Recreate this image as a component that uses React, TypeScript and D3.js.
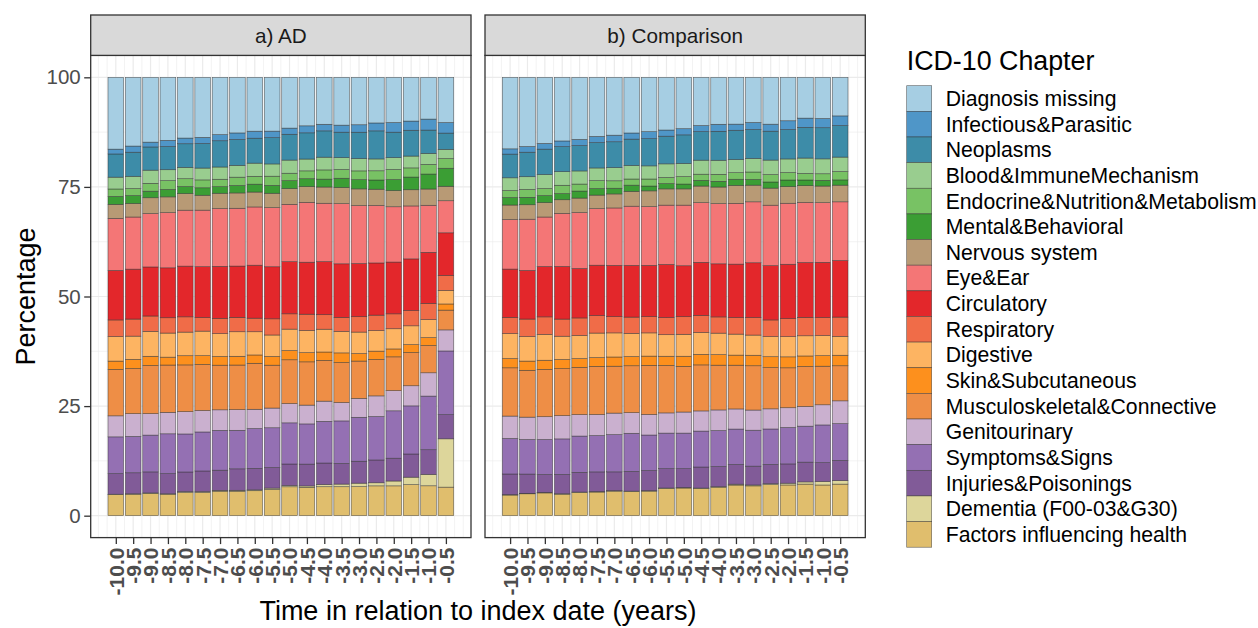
import React, { useEffect, useRef } from 'react';
import * as d3 from 'd3';

// ICD-10 chapters, legend order (top of the stack first)
const chapters = [
  'Diagnosis missing', 'Infectious&Parasitic', 'Neoplasms', 'Blood&ImmuneMechanism',
  'Endocrine&Nutrition&Metabolism', 'Mental&Behavioral', 'Nervous system', 'Eye&Ear',
  'Circulatory', 'Respiratory', 'Digestive', 'Skin&Subcutaneous',
  'Musculoskeletal&Connective', 'Genitourinary', 'Symptoms&Signs', 'Injuries&Poisonings',
  'Dementia (F00-03&G30)', 'Factors influencing health',
];
const chapterColours = [
  '#a6cee3', '#4f96c8', '#3d8ca8', '#99cd8f', '#78c264', '#3b9e34', '#b89a75', '#f47676',
  '#e3272b', '#f06c48', '#fdb462', '#fd901d', '#ee8e46', '#cab0cf', '#9470b3', '#815b98',
  '#ddd69b', '#e0be6d',
];

const timePoints = [-10.0, -9.5, -9.0, -8.5, -8.0, -7.5, -7.0, -6.5, -6.0, -5.5,
  -5.0, -4.5, -4.0, -3.5, -3.0, -2.5, -2.0, -1.5, -1.0, -0.5];
const timeLabels = ['-10.0', '-9.5', '-9.0', '-8.5', '-8.0', '-7.5', '-7.0', '-6.5', '-6.0', '-5.5',
  '-5.0', '-4.5', '-4.0', '-3.5', '-3.0', '-2.5', '-2.0', '-1.5', '-1.0', '-0.5'];
const yTicks = [0, 25, 50, 75, 100];
const panelTitles = ['a) AD', 'b) Comparison'];

// percentages per chapter (rows, legend order) and time point (columns)
const adValues = [
  [16.4, 15.7, 14.8, 14.4, 13.9, 13.7, 13.1, 12.7, 12.3, 12.3, 11.6, 11.1, 10.7, 10.9, 10.8, 10.4, 10.3, 10.0, 9.5, 10.3],
  [1.1, 1.4, 1.1, 1.4, 1.3, 1.4, 1.4, 1.5, 1.6, 1.5, 1.4, 1.6, 1.5, 1.6, 1.7, 1.8, 2.2, 2.1, 2.5, 2.4],
  [5.3, 5.5, 5.3, 5.3, 5.4, 5.6, 6.0, 5.9, 5.7, 6.0, 5.9, 6.0, 6.0, 5.8, 6.0, 6.4, 5.8, 5.9, 5.3, 3.7],
  [2.7, 2.8, 3.0, 2.5, 2.6, 2.7, 2.8, 2.7, 3.0, 2.8, 3.0, 2.7, 2.9, 2.7, 2.8, 2.7, 2.7, 2.7, 2.5, 2.1],
  [1.7, 1.6, 1.8, 2.0, 1.8, 1.8, 1.7, 1.9, 1.8, 2.1, 1.7, 1.8, 2.1, 2.0, 2.0, 2.1, 2.3, 2.1, 2.2, 2.2],
  [1.8, 1.8, 1.5, 1.7, 1.6, 1.7, 1.5, 1.7, 1.8, 1.8, 1.8, 1.8, 1.8, 2.1, 2.1, 2.1, 2.5, 2.9, 3.4, 4.1],
  [3.2, 3.1, 3.6, 3.6, 3.8, 3.4, 3.5, 3.5, 3.4, 3.3, 3.6, 3.6, 3.7, 3.7, 3.8, 3.7, 3.7, 3.7, 3.7, 3.3],
  [11.9, 11.9, 12.2, 12.6, 12.8, 12.9, 13.2, 13.2, 13.3, 13.5, 13.1, 13.7, 13.3, 13.7, 13.2, 13.1, 12.6, 12.1, 10.7, 7.3],
  [11.3, 11.4, 11.2, 11.4, 11.6, 11.6, 11.9, 11.7, 12.1, 11.9, 11.9, 11.9, 12.1, 12.2, 12.1, 11.9, 11.8, 11.8, 11.6, 9.7],
  [3.8, 3.9, 3.5, 3.5, 3.5, 3.1, 3.5, 3.3, 3.1, 3.7, 3.5, 3.7, 3.3, 3.2, 3.5, 3.5, 3.4, 3.5, 3.7, 3.4],
  [5.6, 5.3, 5.7, 5.5, 5.4, 5.6, 5.2, 5.6, 5.3, 4.9, 4.9, 5.1, 5.2, 4.9, 4.9, 4.7, 4.6, 4.3, 4.1, 3.1],
  [1.9, 2.1, 2.1, 1.8, 2.1, 2.0, 2.0, 2.0, 1.9, 2.0, 2.1, 2.1, 1.9, 2.2, 1.7, 1.9, 1.8, 1.8, 1.8, 1.4],
  [10.6, 10.3, 11.0, 10.8, 10.7, 10.5, 10.2, 10.2, 10.5, 9.8, 10.0, 9.9, 9.3, 9.1, 8.5, 8.3, 7.7, 7.6, 6.2, 4.5],
  [4.8, 5.2, 4.9, 4.9, 5.1, 4.9, 4.7, 4.7, 4.4, 4.5, 4.4, 4.3, 4.6, 4.2, 4.3, 4.7, 4.6, 4.6, 5.3, 4.8],
  [8.4, 8.3, 8.4, 9.1, 8.7, 8.9, 9.1, 8.8, 9.1, 9.1, 9.4, 9.2, 9.5, 9.7, 10.0, 9.9, 10.8, 11.0, 12.2, 14.5],
  [4.7, 4.8, 4.8, 4.6, 4.5, 4.7, 4.6, 4.9, 4.9, 4.7, 4.9, 5.0, 4.9, 4.7, 5.0, 5.2, 5.2, 5.3, 5.6, 5.5],
  [0.1, 0.1, 0.1, 0.1, 0.2, 0.2, 0.2, 0.2, 0.2, 0.3, 0.3, 0.3, 0.5, 0.6, 0.8, 0.7, 1.1, 1.7, 2.6, 11.0],
  [4.8, 4.9, 5.1, 4.9, 5.3, 5.3, 5.6, 5.6, 5.7, 6.0, 6.6, 6.5, 6.6, 6.6, 6.6, 6.8, 6.8, 7.1, 6.8, 6.5],
];

const comparisonValues = [
  [16.3, 15.8, 15.1, 14.5, 14.2, 13.5, 13.2, 12.7, 12.4, 12.0, 11.7, 11.0, 10.7, 10.7, 10.3, 10.7, 9.9, 9.3, 9.4, 8.8],
  [1.2, 1.3, 1.3, 1.3, 1.4, 1.4, 1.5, 1.4, 1.6, 1.4, 1.4, 1.4, 1.6, 1.4, 1.6, 1.6, 2.0, 2.1, 2.1, 2.2],
  [5.4, 5.6, 5.8, 5.7, 5.8, 5.8, 5.9, 6.0, 6.2, 6.3, 6.5, 6.5, 6.6, 6.7, 6.6, 6.6, 6.7, 7.0, 7.1, 7.2],
  [2.9, 2.9, 3.2, 3.1, 3.0, 2.9, 3.0, 3.1, 3.0, 3.1, 3.0, 3.2, 3.2, 3.0, 3.1, 3.3, 3.1, 3.5, 3.4, 3.3],
  [1.6, 1.8, 1.6, 1.9, 1.6, 1.8, 1.7, 1.4, 1.6, 1.4, 1.7, 1.4, 1.6, 1.5, 1.7, 1.7, 1.7, 1.5, 1.5, 1.9],
  [1.7, 1.7, 1.6, 1.4, 1.6, 1.5, 1.3, 1.4, 1.1, 1.2, 1.1, 1.3, 1.3, 1.4, 1.3, 1.4, 1.5, 1.3, 1.3, 1.2],
  [3.3, 3.3, 3.3, 3.1, 3.3, 3.1, 3.2, 3.4, 3.6, 3.7, 3.7, 3.8, 3.8, 4.1, 3.8, 3.9, 3.8, 3.8, 3.8, 3.8],
  [11.3, 11.7, 11.3, 12.1, 12.8, 12.9, 13.1, 13.5, 13.4, 13.5, 13.8, 13.6, 13.7, 13.9, 13.9, 13.8, 13.9, 13.7, 13.6, 13.4],
  [11.0, 11.1, 11.5, 12.0, 11.3, 11.5, 11.7, 11.8, 11.7, 12.1, 11.6, 12.1, 12.1, 12.2, 12.5, 12.4, 12.4, 12.5, 12.6, 12.9],
  [3.7, 4.0, 4.0, 3.9, 4.0, 4.0, 3.7, 3.7, 3.7, 3.9, 4.0, 3.9, 3.7, 3.8, 4.0, 3.8, 4.1, 4.2, 4.1, 4.4],
  [5.7, 5.6, 5.9, 5.3, 5.3, 5.6, 5.5, 5.3, 5.3, 4.9, 5.0, 5.0, 4.9, 4.8, 4.6, 4.6, 4.6, 4.6, 4.6, 4.3],
  [2.1, 2.1, 2.1, 2.1, 2.0, 2.0, 2.1, 2.1, 2.1, 2.1, 2.3, 2.4, 2.4, 2.3, 2.4, 2.5, 2.5, 2.4, 2.4, 2.4],
  [11.0, 10.7, 10.8, 10.7, 10.8, 11.0, 10.7, 10.7, 11.2, 10.8, 10.4, 10.5, 10.2, 10.0, 10.1, 9.4, 9.1, 9.1, 8.8, 8.0],
  [5.1, 5.1, 5.2, 5.3, 4.9, 4.8, 4.9, 4.7, 4.7, 4.6, 4.8, 4.6, 4.7, 4.6, 4.6, 4.6, 4.5, 4.5, 4.6, 5.2],
  [8.1, 7.9, 8.0, 8.1, 8.3, 8.3, 8.5, 8.7, 8.1, 8.1, 8.1, 8.2, 8.2, 8.1, 8.2, 8.1, 8.3, 8.2, 8.6, 8.4],
  [4.7, 4.4, 4.1, 4.4, 4.5, 4.5, 4.3, 4.5, 4.6, 4.4, 4.3, 4.8, 4.6, 4.5, 4.3, 4.4, 4.4, 4.5, 4.3, 4.6],
  [0.1, 0.1, 0.1, 0.1, 0.1, 0.1, 0.1, 0.1, 0.1, 0.1, 0.1, 0.1, 0.1, 0.2, 0.2, 0.2, 0.4, 0.5, 0.8, 0.8],
  [4.7, 5.0, 5.2, 4.9, 5.3, 5.4, 5.6, 5.5, 5.6, 6.2, 6.3, 6.2, 6.5, 7.0, 6.8, 7.1, 7.0, 7.2, 7.0, 7.2],
];

const FONT = '"Liberation Sans", Arial, sans-serif';

export default function App() {
  const ref = useRef<SVGSVGElement>(null);

  useEffect(() => {
    const width = 1258;
    const height = 628;
    const svg = d3.select(ref.current);
    svg.selectAll('*').remove();
    svg.attr('width', width).attr('height', height);

    const panelTop = 55.4;
    const panelBottom = 537.6;
    const stripTop = 15;
    const panelLefts = [90.7, 485];
    const panelWidth = 380.3;
    const barHalf = 0.225;

    const y = d3.scaleLinear().domain([-5, 105]).range([panelBottom, panelTop]);

    const stackKeys = chapters.slice().reverse();
    const stack = d3.stack<any>().keys(stackKeys).offset(d3.stackOffsetExpand);

    [adValues, comparisonValues].forEach((values, p) => {
      const x0 = panelLefts[p];
      const x = d3.scaleLinear()
        .domain([timePoints[0] - barHalf - 0.4975, timePoints[timePoints.length - 1] + barHalf + 0.4975])
        .range([x0, x0 + panelWidth]);

      const g = svg.append('g');

      g.append('rect')
        .attr('x', x0).attr('y', panelTop)
        .attr('width', panelWidth).attr('height', panelBottom - panelTop)
        .attr('fill', '#fff');

      // grid
      const minorX = [timePoints[0] - 0.5, ...timePoints.map(t => t - 0.25), timePoints[timePoints.length - 1] + 0.25, 0];
      g.selectAll('.vminor').data(minorX).enter().append('line')
        .attr('x1', d => x(d)).attr('x2', d => x(d))
        .attr('y1', panelTop).attr('y2', panelBottom)
        .attr('stroke', '#ebebeb').attr('stroke-width', 0.6);
      g.selectAll('.vmajor').data(timePoints).enter().append('line')
        .attr('x1', d => x(d)).attr('x2', d => x(d))
        .attr('y1', panelTop).attr('y2', panelBottom)
        .attr('stroke', '#ebebeb').attr('stroke-width', 1.2);
      g.selectAll('.hminor').data([12.5, 37.5, 62.5, 87.5]).enter().append('line')
        .attr('x1', x0).attr('x2', x0 + panelWidth)
        .attr('y1', d => y(d)).attr('y2', d => y(d))
        .attr('stroke', '#ebebeb').attr('stroke-width', 0.6);
      g.selectAll('.hmajor').data(yTicks).enter().append('line')
        .attr('x1', x0).attr('x2', x0 + panelWidth)
        .attr('y1', d => y(d)).attr('y2', d => y(d))
        .attr('stroke', '#ebebeb').attr('stroke-width', 1.2);

      const rows = timePoints.map((t, i) => {
        const row: any = { time: t };
        chapters.forEach((c, k) => { row[c] = values[k][i]; });
        return row;
      });
      const series = stack(rows);

      series.forEach(s => {
        const colour = chapterColours[chapters.indexOf(s.key)];
        g.append('g').selectAll('rect').data(s).enter().append('rect')
          .attr('x', d => x(d.data.time - barHalf))
          .attr('width', d => x(d.data.time + barHalf) - x(d.data.time - barHalf))
          .attr('y', d => y(d[1] * 100))
          .attr('height', d => y(d[0] * 100) - y(d[1] * 100))
          .attr('fill', colour)
          .attr('stroke', '#333')
          .attr('stroke-width', 0.6)
          .attr('stroke-opacity', 0.75);
      });

      g.append('rect')
        .attr('x', x0).attr('y', panelTop)
        .attr('width', panelWidth).attr('height', panelBottom - panelTop)
        .attr('fill', 'none').attr('stroke', '#333').attr('stroke-width', 1.3);

      // strip
      g.append('rect')
        .attr('x', x0).attr('y', stripTop)
        .attr('width', panelWidth).attr('height', panelTop - stripTop)
        .attr('fill', '#d9d9d9').attr('stroke', '#333').attr('stroke-width', 1.3);
      g.append('text')
        .attr('x', x0 + panelWidth / 2).attr('y', (stripTop + panelTop) / 2)
        .attr('text-anchor', 'middle').attr('dominant-baseline', 'central')
        .attr('font-family', FONT).attr('font-size', 20.7).attr('fill', '#1a1a1a')
        .text(panelTitles[p]);

      // x axis
      const xAxis = g.append('g')
        .attr('transform', `translate(0,${panelBottom})`)
        .call(d3.axisBottom(x).tickValues(timePoints).tickFormat((_d, i) => timeLabels[i]).tickSize(6.5).tickPadding(3.5));
      xAxis.select('.domain').remove();
      xAxis.selectAll('line').attr('stroke', '#333').attr('stroke-width', 1.3);
      xAxis.selectAll('text')
        .attr('font-family', FONT).attr('font-size', 21).attr('font-weight', 'bold').attr('fill', '#4d4d4d')
        .attr('transform', 'rotate(-90)')
        .attr('text-anchor', 'end')
        .attr('x', -10).attr('y', 0).attr('dy', '0.35em');

      if (p === 0) {
        const yAxis = g.append('g')
          .attr('transform', `translate(${x0},0)`)
          .call(d3.axisLeft(y).tickValues(yTicks).tickSize(6.5).tickPadding(3.5));
        yAxis.select('.domain').remove();
        yAxis.selectAll('line').attr('stroke', '#333').attr('stroke-width', 1.3);
        yAxis.selectAll('text')
          .attr('font-family', FONT).attr('font-size', 20.5).attr('fill', '#4d4d4d');
      }
    });

    // axis titles
    svg.append('text')
      .attr('transform', `translate(35,${(panelTop + panelBottom) / 2}) rotate(-90)`)
      .attr('text-anchor', 'middle')
      .attr('font-family', FONT).attr('font-size', 27).attr('fill', '#000')
      .text('Percentage');
    svg.append('text')
      .attr('x', (panelLefts[0] + panelLefts[1] + panelWidth) / 2).attr('y', 620)
      .attr('text-anchor', 'middle')
      .attr('font-family', FONT).attr('font-size', 27).attr('fill', '#000')
      .text('Time in relation to index date (years)');

    // legend
    const legend = svg.append('g').attr('transform', 'translate(906.7,0)');
    legend.append('text')
      .attr('x', 0).attr('y', 70)
      .attr('font-family', FONT).attr('font-size', 26.8).attr('fill', '#000')
      .text('ICD-10 Chapter');
    const keyH = 25.64;
    const items = legend.selectAll('.item').data(chapters).enter().append('g')
      .attr('transform', (_d, i) => `translate(0,${85.7 + i * keyH})`);
    items.append('rect')
      .attr('width', 25).attr('height', keyH)
      .attr('fill', (_d, i) => chapterColours[i])
      .attr('stroke', '#333').attr('stroke-width', 0.6).attr('stroke-opacity', 0.75);
    items.append('text')
      .attr('x', 39).attr('y', keyH / 2)
      .attr('dominant-baseline', 'central')
      .attr('font-family', FONT).attr('font-size', 21.2).attr('fill', '#000')
      .text(d => d);
  }, []);

  return (
    <div style={{ position: 'absolute', left: 0, top: 0 }}>
      <svg ref={ref} style={{ display: 'block' }} />
    </div>
  );
}
